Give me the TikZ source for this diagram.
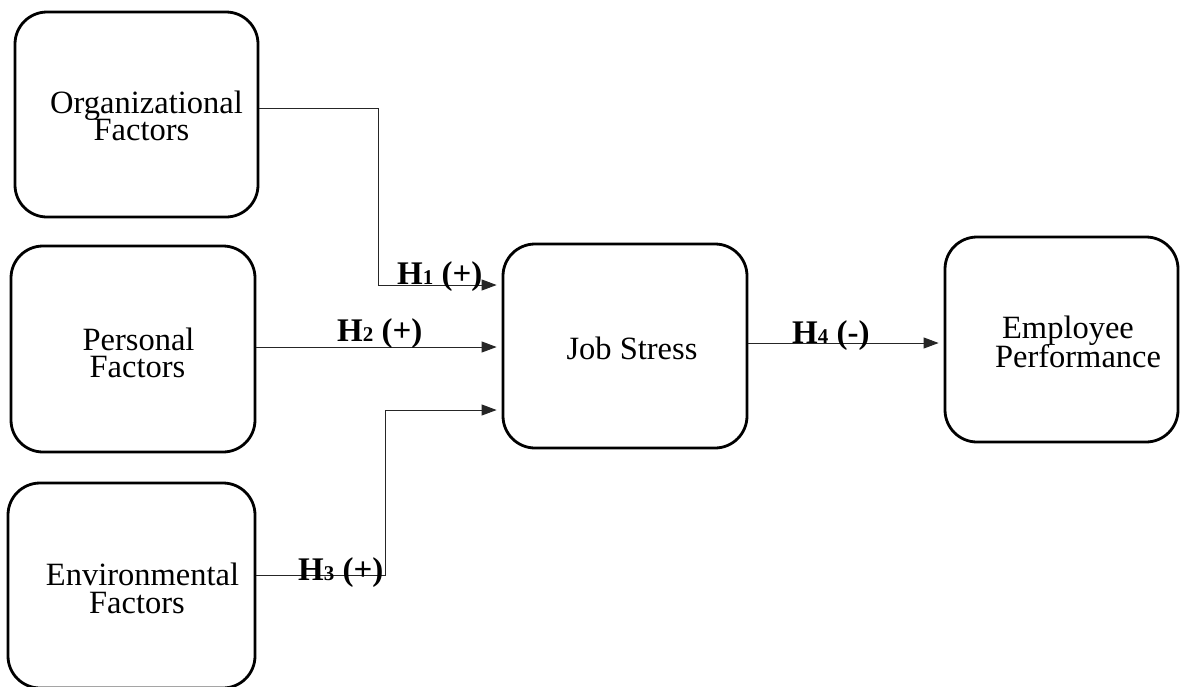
\documentclass[tikz,border=0pt]{standalone}
\usepackage{fontspec}
\setmainfont{Liberation Serif}
\usetikzlibrary{arrows.meta}
\tikzset{
  box/.style={draw, line width=2.8pt, rounded corners=32pt, inner sep=0pt},
  txt/.style={anchor=base, inner sep=0pt, font=\fontsize{32.5}{32.5}\selectfont},
  lbl/.style={anchor=base west, inner sep=0pt, font=\fontsize{33}{33}\selectfont\bfseries},
  conn/.style={line width=1pt, black!85},
  arr/.style={conn, -{Triangle[length=15pt,width=11pt]}, shorten >=5pt}
}
\newcommand{\hsub}[1]{{\fontsize{21}{21}\selectfont #1}}
\begin{document}
\begin{tikzpicture}[x=1pt,y=-1pt]
\useasboundingbox (0,0) rectangle (1180,686);
% boxes
\node[box, minimum width=243pt, minimum height=205pt] (org) at (136.5,114.5) {};
\node[box, minimum width=244pt, minimum height=206pt] (per) at (133,349) {};
\node[box, minimum width=247pt, minimum height=205pt] (env) at (131.5,585.5) {};
\node[box, minimum width=244pt, minimum height=204pt] (jst) at (625,346) {};
\node[box, minimum width=233pt, minimum height=205pt] (emp) at (1061.5,339.5) {};
% texts
\node[txt] (org1) at (146.5,113) {Organizational};
\node[txt] (org2) at (141.5,140) {Factors};
\node[txt] (per1) at (138.5,350) {Personal};
\node[txt] (per2) at (137.5,377) {Factors};
\node[txt] (env1) at (142.5,585) {Environmental};
\node[txt] (env2) at (137,613) {Factors};
\node[txt] (jst1) at (632,359) {Job Stress};
\node[txt] (emp1) at (1068,338) {Employee};
\node[txt] (emp2) at (1078,367) {Performance};
% connectors
\coordinate (c1) at (378,285);
\coordinate (c3) at (385,410);
\coordinate (s2) at ([yshift=2pt]per.east);
\coordinate (s4) at ([yshift=3pt]jst.east);
\draw[arr] ([yshift=6.5pt]org.east) -| (c1) -- (c1 -| jst.west);
\draw[arr] (s2) -- (s2 -| jst.west);
\draw[arr] ([yshift=10.5pt]env.east) -| (c3) -- (c3 -| jst.west);
\draw[arr] (s4) -- (s4 -| emp.west);
% labels
\node[lbl] (h1) at (397,284) {H\hsub{1} (+)};
\node[lbl] (h2) at (337,341) {H\hsub{2} (+)};
\node[lbl] (h3) at (298,580) {H\hsub{3} (+)};
\node[lbl] (h4) at (792,343) {H\hsub{4} (-)};
\end{tikzpicture}
\end{document}
